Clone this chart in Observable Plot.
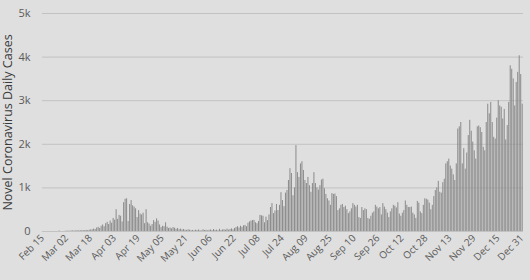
<!DOCTYPE html>
<html>
<head>
<meta charset="utf-8">
<script src="https://cdn.jsdelivr.net/npm/d3@7"></script>
<script src="https://cdn.jsdelivr.net/npm/@observablehq/plot@0.6"></script>
<style>
  html, body { margin: 0; padding: 0; background: #dfdfdf; }
  #chart { width: 530px; height: 280px; overflow: hidden; }
</style>
</head>
<body>
<div id="chart"></div>
<script>
// First day of the daily series
const startDate = "2020-02-15";
const endDate = "2021-01-01";

// Daily new cases, one value per day from Feb 15 to Dec 31 2020
const dailyCases = [
  0,0,0,0,0,0,0,0,0,0,0,12,0,0,0,
  5,8,10,6,12,15,10,14,18,12,20,16,22,18,25,20,30,
  35,40,55,45,80,95,70,120,150,110,180,210,160,240,190,300,260,
  500,280,370,350,220,660,740,750,230,620,710,590,560,520,320,480,400,380,420,180,
  500,200,170,120,160,250,210,290,240,150,90,120,110,200,100,70,80,60,90,75,
  50,70,40,55,35,45,30,25,40,30,20,
  25,15,30,20,35,18,12,40,22,30,15,28,35,20,45,25,30,18,50,22,35,40,28,55,30,45,60,38,70,
  90,110,80,120,95,130,140,110,190,220,
  240,250,255,200,180,230,370,360,350,200,
  330,250,380,550,640,410,470,620,480,600,
  890,710,570,880,940,1170,1440,1330,820,1000,
  1970,1350,1240,1550,1600,1400,1170,1100,1240,1050,
  900,1100,1350,1100,1000,950,1050,1180,1200,980,
  850,750,700,600,870,850,860,800,480,520,600,
  620,550,580,500,410,450,520,640,600,560,
  600,320,300,550,480,520,500,300,280,350,
  420,450,600,560,520,550,380,640,560,500,
  420,320,450,520,600,580,540,660,400,350,
  420,480,700,600,550,550,560,420,380,300,
  690,650,450,410,600,750,740,720,650,500,
  600,
  800,940,1000,1150,900,880,1120,1200,1550,1600,
  1660,1500,1430,1300,1170,1550,2350,2400,2500,1550,
  1900,1430,1800,2200,2550,2300,2050,1850,1660,2400,
  2420,2380,2270,1930,1850,2500,2920,2700,2960,2500,
  2160,2120,2600,3000,2880,2850,2580,2800,2100,2430,
  2960,3800,3720,3500,2880,3420,3650,4030,3600,2920
];

// x tick dates (every 16 days)
const xTickDates = [
  "2020-02-15","2020-03-02","2020-03-18","2020-04-03","2020-04-19","2020-05-05",
  "2020-05-21","2020-06-06","2020-06-22","2020-07-08","2020-07-24","2020-08-09",
  "2020-08-25","2020-09-10","2020-09-26","2020-10-12","2020-10-28","2020-11-13",
  "2020-11-29","2020-12-15","2020-12-31"
];

// y ticks and their labels
const yTicks = [0, 1000, 2000, 3000, 4000, 5000];
const yTickLabels = ["0", "1k", "2k", "3k", "4k", "5k"];

const yLabel = "Novel Coronavirus Daily Cases";

const start = new Date(startDate + "T00:00:00Z");
const data = dailyCases.map((v, i) => ({ date: d3.utcDay.offset(start, i), value: v }));
const tickDates = xTickDates.map(s => new Date(s + "T00:00:00Z"));
const fmt = d3.utcFormat("%b %d");

const chart = Plot.plot({
  width: 530,
  height: 280,
  marginLeft: 42,
  marginRight: 7,
  marginTop: 13,
  marginBottom: 49,
  style: { background: "#dfdfdf", fontFamily: "'Open Sans', sans-serif", overflow: "visible" },
  x: { type: "utc", domain: [start, new Date(endDate + "T00:00:00Z")] },
  y: { domain: [0, 5000] },
  marks: [
    Plot.gridY(yTicks, { stroke: "#c2c2c2", strokeOpacity: 1, strokeWidth: 1 }),
    Plot.rectY(data, { x: "date", y: "value", interval: "day", insetLeft: 0.2, insetRight: 0.3, fill: "#8a8a8a" }),
    Plot.axisY({
      ticks: yTicks,
      tickFormat: (d) => yTickLabels[yTicks.indexOf(d)],
      tickSize: 0,
      tickPadding: 12,
      fontSize: 11,
      color: "#5a5a5a",
      label: yLabel,
      labelAnchor: "center",
      labelOffset: 39,
      labelArrow: "none"
    }),
    Plot.axisX({
      ticks: tickDates,
      tickFormat: fmt,
      tickSize: 0,
      tickPadding: 5,
      tickRotate: -45,
      fontSize: 10,
      color: "#5a5a5a",
      label: null
    })
  ]
});
document.getElementById("chart").appendChild(chart);
// style y label
chart.querySelectorAll("g[aria-label='y-axis label'] text").forEach(t => {
  t.setAttribute("fill", "#3a3a3a");
  t.style.fontSize = "12.5px";
});
</script>
</body>
</html>
